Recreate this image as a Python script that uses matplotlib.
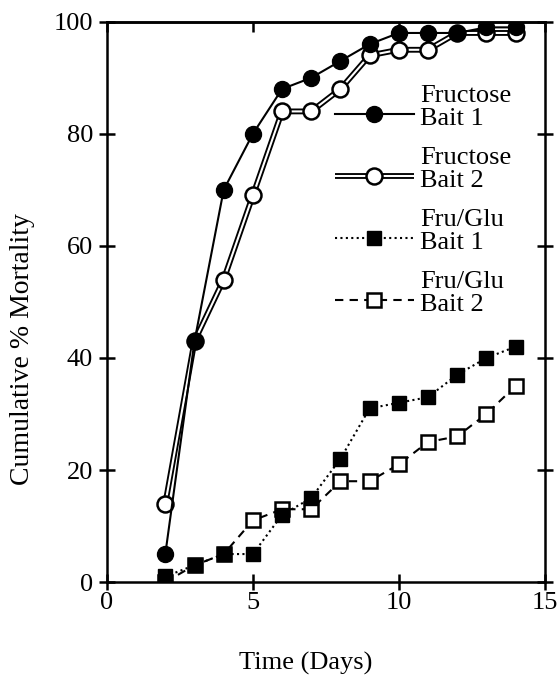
import matplotlib
matplotlib.use("Agg")
import numpy as np
import matplotlib.pyplot as plt
from matplotlib.lines import Line2D
from matplotlib.legend_handler import HandlerTuple, HandlerLine2D

plt.rcParams['font.family'] = ['Liberation Serif', 'DejaVu Serif']

days = [2, 3, 4, 5, 6, 7, 8, 9, 10, 11, 12, 13, 14]
fructose_bait1 = [5, 43, 70, 80, 88, 90, 93, 96, 98, 98, 98, 99, 99]
fructose_bait2 = [14, 43, 54, 69, 84, 84, 88, 94, 95, 95, 98, 98, 98]
fruglu_bait1 = [1, 3, 5, 5, 12, 15, 22, 31, 32, 33, 37, 40, 42]
fruglu_bait2 = [0, 3, 5, 11, 13, 13, 18, 18, 21, 25, 26, 30, 35]
labels = ["Fructose\nBait 1", "Fructose\nBait 2", "Fru/Glu\nBait 1", "Fru/Glu\nBait 2"]
xticks = [0, 5, 10, 15]
yticks = [0, 20, 40, 60, 80, 100]


class ShiftedLineHandler(HandlerLine2D):
    """Line handler drawn slightly below the centre of its two-line label."""
    def __init__(self, shift=5.0, **kw):
        super().__init__(**kw)
        self.shift = shift

    def create_artists(self, legend, orig_handle, xdescent, ydescent,
                       width, height, fontsize, trans):
        arts = super().create_artists(legend, orig_handle, xdescent, ydescent,
                                      width, height, fontsize, trans)
        for a in arts:
            if isinstance(a, Line2D):
                a.set_ydata(np.asarray(a.get_ydata()) - self.shift)
        return arts


fig = plt.figure(figsize=(5.57, 6.8), dpi=100)
ax = fig.add_axes([0.192, 0.144, 0.786, 0.824])

lw = 1.5
h4, = ax.plot(days, fruglu_bait2, color='black', lw=lw, ls=(0, (4, 3)),
              marker='s', ms=10.5, mfc='white', mec='black', mew=1.8, zorder=3)
h3, = ax.plot(days, fruglu_bait1, color='black', lw=lw, ls=(0, (1, 1.6)),
              marker='s', ms=10.5, mfc='black', mec='black', zorder=4)
h2a, = ax.plot(days, fructose_bait2, color='black', lw=4.2, solid_capstyle='butt', zorder=5)
h2b, = ax.plot(days, fructose_bait2, color='white', lw=1.5, solid_capstyle='butt', zorder=5)
h2c, = ax.plot(days, fructose_bait2, ls='none', marker='o', ms=11.5, mfc='white',
               mec='black', mew=1.8, zorder=6)
h1, = ax.plot(days, fructose_bait1, color='black', lw=lw, marker='o', ms=11.5,
              mfc='black', mec='black', zorder=7)

ax.set_xlim(0, 15)
ax.set_ylim(0, 100)
ax.set_xticks(xticks)
ax.set_yticks(yticks)
ax.tick_params(axis='y', direction='inout', length=12, width=1.8, labelsize=19,
               right=True, pad=4)
ax.tick_params(axis='x', direction='inout', length=12, width=1.8, labelsize=19,
               top=False, pad=1)
sec = ax.secondary_xaxis('top')
sec.set_xticks(xticks)
sec.tick_params(direction='in', length=7, width=1.8, labeltop=False)
for s in list(ax.spines.values()) + list(sec.spines.values()):
    s.set_linewidth(1.8)

ax.set_xlabel("Time (Days)", fontsize=19)
ax.xaxis.set_label_coords(0.455, -0.125)
ax.set_ylabel("Cumulative % Mortality", fontsize=20)
ax.yaxis.set_label_coords(-0.165, 0.416)

leg = ax.legend([h1, (h2a, h2b, h2c), h3, h4], labels,
                handler_map={tuple: HandlerTuple(ndivide=1, pad=0),
                             Line2D: ShiftedLineHandler(shift=5.0)},
                loc='upper left', bbox_to_anchor=(0.52, 0.888),
                frameon=False, fontsize=19, handlelength=3.0,
                handletextpad=0.25, labelspacing=0.62, borderpad=0,
                borderaxespad=0)
for t in leg.get_texts():
    t.set_linespacing(1.1)

fig.savefig("out.png", dpi=100)
